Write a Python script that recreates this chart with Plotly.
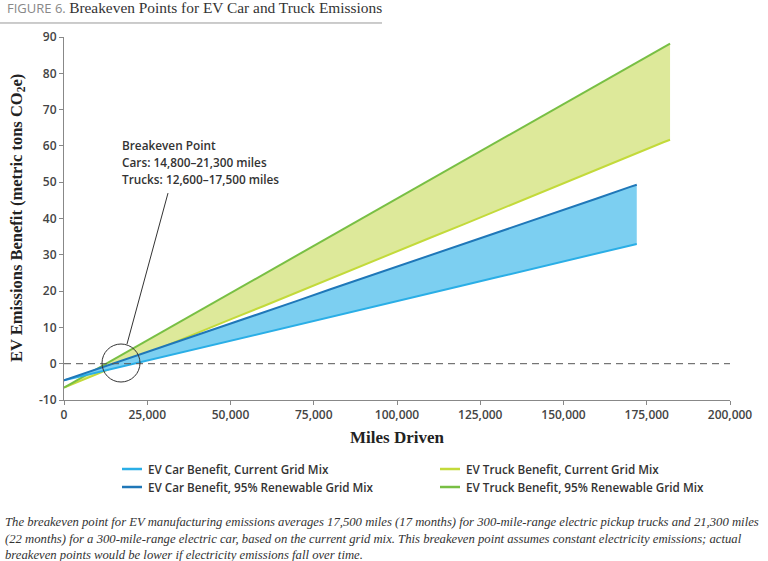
import plotly.graph_objects as go

miles_car = [0, 10000, 20000, 30000, 40000, 50000, 60000, 70000, 80000, 90000, 100000,
             110000, 120000, 130000, 140000, 150000, 160000, 170000, 172000]
car_current = [-4.6, -2.4, -0.2, 2.0, 4.1, 6.3, 8.5, 10.7, 12.9, 15.1, 17.3,
               19.4, 21.6, 23.8, 26.0, 28.2, 30.4, 32.6, 33.0]
car_renew = [-4.6, -1.5, 1.7, 4.8, 7.9, 11.1, 14.2, 17.3, 20.5, 23.6, 26.7,
             29.9, 33.0, 36.1, 39.3, 42.4, 45.5, 48.7, 49.3]

miles_truck = [0, 10000, 20000, 30000, 40000, 50000, 60000, 70000, 80000, 90000, 100000,
               110000, 120000, 130000, 140000, 150000, 160000, 170000, 180000, 182000]
truck_current = [-6.6, -2.8, 0.9, 4.7, 8.4, 12.2, 15.9, 19.7, 23.4, 27.2, 30.9,
                 34.7, 38.4, 42.2, 45.9, 49.7, 53.4, 57.2, 61.0, 61.7]
truck_renew = [-6.6, -1.4, 3.8, 9.0, 14.2, 19.4, 24.7, 29.9, 35.1, 40.3, 45.5,
               50.7, 55.9, 61.1, 66.3, 71.5, 76.7, 81.9, 87.2, 88.2]

series_names = ["EV Car Benefit, Current Grid Mix", "EV Car Benefit, 95% Renewable Grid Mix",
                "EV Truck Benefit, Current Grid Mix", "EV Truck Benefit, 95% Renewable Grid Mix"]
x_ticks = [0, 25000, 50000, 75000, 100000, 125000, 150000, 175000, 200000]
y_ticks = [-10, 0, 10, 20, 30, 40, 50, 60, 70, 80, 90]
annot_lines = ["Breakeven Point", "Cars: 14,800–21,300 miles", "Trucks: 12,600–17,500 miles"]

C_CAR_CUR = "#2aaee6"
C_CAR_REN = "#1f77b8"
C_TRK_CUR = "#c3da3a"
C_TRK_REN = "#78bf44"
FILL_CAR = "#7ccff1"
FILL_TRK = "#dde99a"

fig = go.Figure()
fig.add_trace(go.Scatter(x=miles_truck, y=truck_current, mode="lines",
                         line=dict(color=C_TRK_CUR, width=2), name=series_names[2], showlegend=False))
fig.add_trace(go.Scatter(x=miles_truck, y=truck_renew, mode="lines", fill="tonexty", fillcolor=FILL_TRK,
                         line=dict(color=C_TRK_REN, width=2), name=series_names[3], showlegend=False))
fig.add_trace(go.Scatter(x=miles_car, y=car_current, mode="lines",
                         line=dict(color=C_CAR_CUR, width=2), name=series_names[0], showlegend=False))
fig.add_trace(go.Scatter(x=miles_car, y=car_renew, mode="lines", fill="tonexty", fillcolor=FILL_CAR,
                         line=dict(color=C_CAR_REN, width=2), name=series_names[1], showlegend=False))

tickfont = dict(family="Open Sans", size=12, color="#444", weight=600)
serif_bold = dict(family="Liberation Serif", size=17, color="#222", weight="bold")

fig.update_xaxes(range=[0, 200000], tickvals=x_ticks, ticktext=[f"{v:,}" for v in x_ticks],
                 showgrid=False, zeroline=False, showline=True, linecolor="#888", linewidth=1,
                 ticks="outside", ticklen=4, tickcolor="#888", tickfont=tickfont, automargin=False)
fig.update_yaxes(range=[-10, 90], tickvals=y_ticks, ticktext=[str(v) for v in y_ticks],
                 showgrid=False, zeroline=False,
                 showline=True, linecolor="#888", linewidth=1, ticks="outside", ticklen=4,
                 tickcolor="#888", tickfont=tickfont, automargin=False)

# axis titles
fig.add_annotation(x=0.5, y=-0.102, xref="paper", yref="paper", xanchor="center", yanchor="middle",
                   showarrow=False, text="Miles Driven", font=serif_bold)
fig.add_annotation(x=-0.0706, y=0.5014, xref="paper", yref="paper", xanchor="center", yanchor="middle",
                   showarrow=False, textangle=-90,
                   text="EV Emissions Benefit (metric tons CO<sub>2</sub>e)",
                   font=dict(family="Liberation Serif", size=16.5, color="#222", weight="bold"))

# zero line
fig.add_shape(type="line", xref="paper", yref="y", x0=0, x1=1, y0=0, y1=0,
              line=dict(color="#555", width=1, dash="7px,5px"), layer="above")
# breakeven circle
fig.add_shape(type="circle", xref="x", yref="y", xsizemode="pixel", ysizemode="pixel",
              xanchor=17117, yanchor=0.19, x0=-19, x1=19, y0=-19, y1=19,
              line=dict(color="#333", width=1), layer="above")
fig.add_shape(type="line", xref="x", yref="y", x0=31231, y0=47.0, x1=18919, y1=5.43,
              line=dict(color="#333", width=1), layer="above")
for i, t in enumerate(annot_lines):
    fig.add_annotation(x=0.0841, y=(400 - (145 + 17 * i)) / 363, xref="paper", yref="paper",
                       xanchor="left", yanchor="middle", showarrow=False, text=t,
                       font=dict(family="Open Sans", size=11.8, color="#333", weight=600))

# title
fig.add_annotation(x=-0.0886, y=1.0799, xref="paper", yref="paper", xanchor="left", yanchor="middle",
                   showarrow=False,
                   text="<span style='font-family:Open Sans;font-size:13px;color:#888'>FIGURE 6. </span>"
                        "<span style='font-family:Liberation Serif;font-size:15.4px;color:#333'>Breakeven Points for EV Car and Truck Emissions</span>")
fig.add_shape(type="line", xref="paper", yref="paper", x0=-0.0961, x1=0.4775, y0=1.0386, y1=1.0386,
              line=dict(color="#999", width=1))

# legend (manual)
leg_items = [(series_names[0], C_CAR_CUR, 0.0871, -0.1901), (series_names[1], C_CAR_REN, 0.0871, -0.2397),
             (series_names[2], C_TRK_CUR, 0.5646, -0.1901), (series_names[3], C_TRK_REN, 0.5646, -0.2397)]
for name, col, lx, ly in leg_items:
    fig.add_shape(type="line", xref="paper", yref="paper", x0=lx, x1=lx + 0.030, y0=ly, y1=ly,
                  line=dict(color=col, width=2.5))
    fig.add_annotation(x=lx + 0.036, y=ly, xref="paper", yref="paper", xanchor="left", yanchor="middle",
                       showarrow=False, text=name,
                       font=dict(family="Open Sans", size=11.7, color="#333", weight=600))

caption = ("The breakeven point for EV manufacturing emissions averages 17,500 miles (17 months) for 300-mile-range electric pickup trucks and 21,300 miles<br>"
           "(22 months) for a 300-mile-range electric car, based on the current grid mix. This breakeven point assumes constant electricity emissions; actual<br>"
           "breakeven points would be lower if electricity emissions fall over time.")
fig.add_annotation(x=-0.0916, y=-0.3802, xref="paper", yref="paper", xanchor="left", yanchor="middle",
                   showarrow=False, align="left", text="<i>" + caption + "</i>",
                   font=dict(family="Liberation Serif", size=12.7, color="#333"))

fig.update_layout(width=768, height=561, margin=dict(l=64, r=38, t=37, b=161),
                  plot_bgcolor="white", paper_bgcolor="white", showlegend=False)
fig.write_html("out.html", config={"displayModeBar": False},
               post_script="document.body.style.margin='0';")
